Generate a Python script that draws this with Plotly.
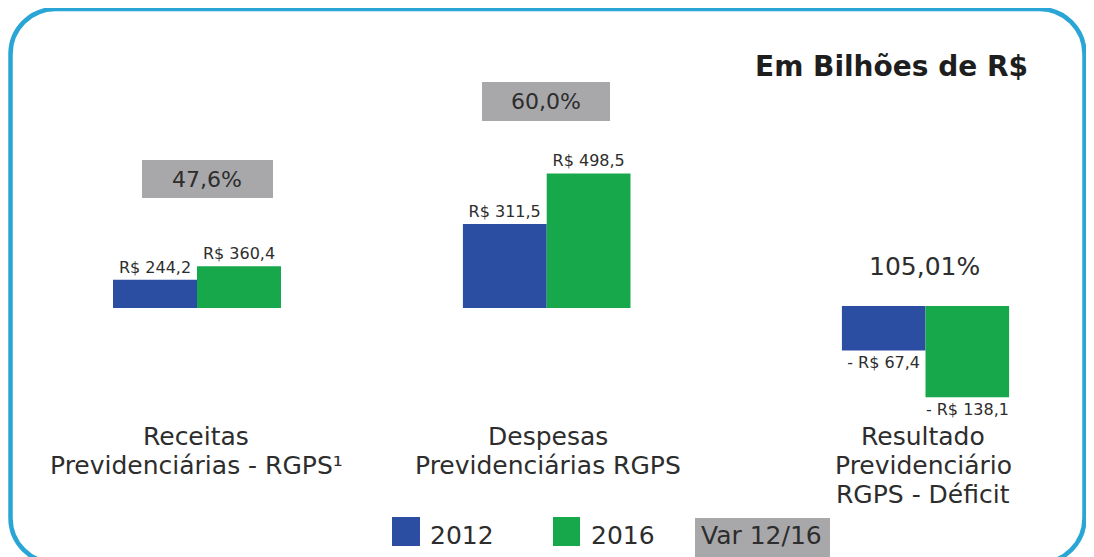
import plotly.graph_objects as go

# data
categorias = ['Receitas<br>Previdenciárias - RGPS¹',
              'Despesas<br>Previdenciárias RGPS',
              'Resultado<br>Previdenciário<br>RGPS - Déficit']
valores_2012 = [244.2, 311.5, -67.4]
valores_2016 = [360.4, 498.5, -138.1]
variacao = ['47,6%', '60,0%', '105,01%']
anos = ['2012', '2016']

W, H = 1094, 557
OFF = 8   # page body margin pushes the figure 8px right/down
AZUL = '#2b4ea2'
VERDE = '#17a84b'
CINZA = '#a8a8aa'
TEXTO = '#2d2d2d'
FONTE = 'DejaVu Sans'


def px_x(x):
    return (x - OFF) / W


def px_y(y):
    return 1 - (y - OFF) / H


def rotulo(v):
    s = 'R$ ' + f'{abs(v):.1f}'.replace('.', ',')
    return '- ' + s if v < 0 else s


# the original is not drawn to one scale: each group gets its own axis
bar_left = [113, 462.7, 841.7]
bar_right = [281, 630.7, 1009.3]
base_px = [308, 308, 306]
escala = [0.116, 0.27, 0.66]   # px per unit

fig = go.Figure()
layout = {}
for i in range(3):
    sfx = '' if i == 0 else str(i + 1)
    fig.add_trace(go.Bar(
        x=[0, 1], y=[valores_2012[i], valores_2016[i]],
        width=1,
        marker=dict(color=[AZUL, VERDE], line=dict(width=0)),
        text=[rotulo(valores_2012[i]), rotulo(valores_2016[i])],
        textposition='outside',
        constraintext='none',
        cliponaxis=False,
        textfont=dict(family=FONTE, size=16, color=TEXTO),
        xaxis='x' + sfx, yaxis='y' + sfx,
        showlegend=False, hoverinfo='skip'))
    b = base_px[i] - OFF
    lo = -(H - b) / escala[i]
    hi = b / escala[i]
    layout['xaxis' + sfx] = dict(domain=[px_x(bar_left[i]), px_x(bar_right[i])],
                                 range=[-0.5, 1.5], visible=False,
                                 anchor='y' + sfx, fixedrange=True)
    layout['yaxis' + sfx] = dict(domain=[0, 1], range=[lo, hi], visible=False,
                                 anchor='x' + sfx, fixedrange=True)
fig.update_layout(**layout)

shapes = []
annotations = []

# rounded border
x0, x1, y0, y1, r = 10.5, 1084.5, 9, 563, 45
k = 0.5523 * r
pts = [
    ('M', [(x0 + r, y0)]),
    ('L', [(x1 - r, y0)]),
    ('C', [(x1 - r + k, y0), (x1, y0 + r - k), (x1, y0 + r)]),
    ('L', [(x1, y1 - r)]),
    ('C', [(x1, y1 - r + k), (x1 - r + k, y1), (x1 - r, y1)]),
    ('L', [(x0 + r, y1)]),
    ('C', [(x0 + r - k, y1), (x0, y1 - r + k), (x0, y1 - r)]),
    ('L', [(x0, y0 + r)]),
    ('C', [(x0, y0 + r - k), (x0 + r - k, y0), (x0 + r, y0)]),
]
path = ' '.join(cmd + ' ' + ' '.join(f'{px_x(a):.5f},{px_y(b):.5f}' for a, b in p)
                for cmd, p in pts) + ' Z'
shapes.append(dict(type='path', path=path, xref='paper', yref='paper',
                   line=dict(color='#2aa6d6', width=4.5), layer='below'))

# variation boxes
var_boxes = [(142, 273, 160, 198), (482, 610, 82, 121), None]
var_centro = [(207, 179), (546, 101.5), (924, 266)]
for i in range(3):
    if var_boxes[i]:
        a, b, c, d = var_boxes[i]
        shapes.append(dict(type='rect', xref='paper', yref='paper',
                           x0=px_x(a), x1=px_x(b), y0=px_y(d), y1=px_y(c),
                           fillcolor=CINZA, line=dict(width=0), layer='below'))
    cx, cy = var_centro[i]
    annotations.append(dict(text=variacao[i], x=px_x(cx), y=px_y(cy),
                            xref='paper', yref='paper', showarrow=False,
                            xanchor='center', yanchor='middle',
                            font=dict(family=FONTE, size=22 if i < 2 else 25, color=TEXTO)))

# category labels, one annotation per line
cat_cx = [196, 548, 923]
linha_y = [436, 465, 494]
for i, cat in enumerate(categorias):
    for j, linha in enumerate(cat.split('<br>')):
        annotations.append(dict(text=linha, x=px_x(cat_cx[i]), y=px_y(linha_y[j]),
                                xref='paper', yref='paper', showarrow=False,
                                xanchor='center', yanchor='middle',
                                font=dict(family=FONTE, size=25, color=TEXTO)))

# title
annotations.append(dict(text='<b>Em Bilhões de R$</b>', x=px_x(1030), y=px_y(67),
                        xref='paper', yref='paper', showarrow=False,
                        xanchor='right', yanchor='middle',
                        font=dict(family=FONTE, size=28, color='#1e1e1e')))

# manual legend
leg = [(392, 420, AZUL, anos[0], 428), (553, 580, VERDE, anos[1], 589)]
for a, b, cor, txt, tx in leg:
    shapes.append(dict(type='rect', xref='paper', yref='paper',
                       x0=px_x(a), x1=px_x(b), y0=px_y(546), y1=px_y(517),
                       fillcolor=cor, line=dict(width=0)))
    annotations.append(dict(text=txt, x=px_x(tx), y=px_y(535), xref='paper', yref='paper',
                            showarrow=False, xanchor='left', yanchor='middle',
                            font=dict(family=FONTE, size=25, color=TEXTO)))
shapes.append(dict(type='rect', xref='paper', yref='paper',
                   x0=px_x(695), x1=px_x(830), y0=px_y(560), y1=px_y(518),
                   fillcolor=CINZA, line=dict(width=0)))
annotations.append(dict(text='Var 12/16', x=px_x(699), y=px_y(535), xref='paper', yref='paper',
                        showarrow=False, xanchor='left', yanchor='middle',
                        font=dict(family=FONTE, size=25, color=TEXTO)))

fig.update_layout(
    width=W, height=H,
    margin=dict(l=0, r=0, t=0, b=0),
    paper_bgcolor='white', plot_bgcolor='rgba(0,0,0,0)',
    shapes=shapes, annotations=annotations,
    showlegend=False,
)

fig.write_html('out.html')
